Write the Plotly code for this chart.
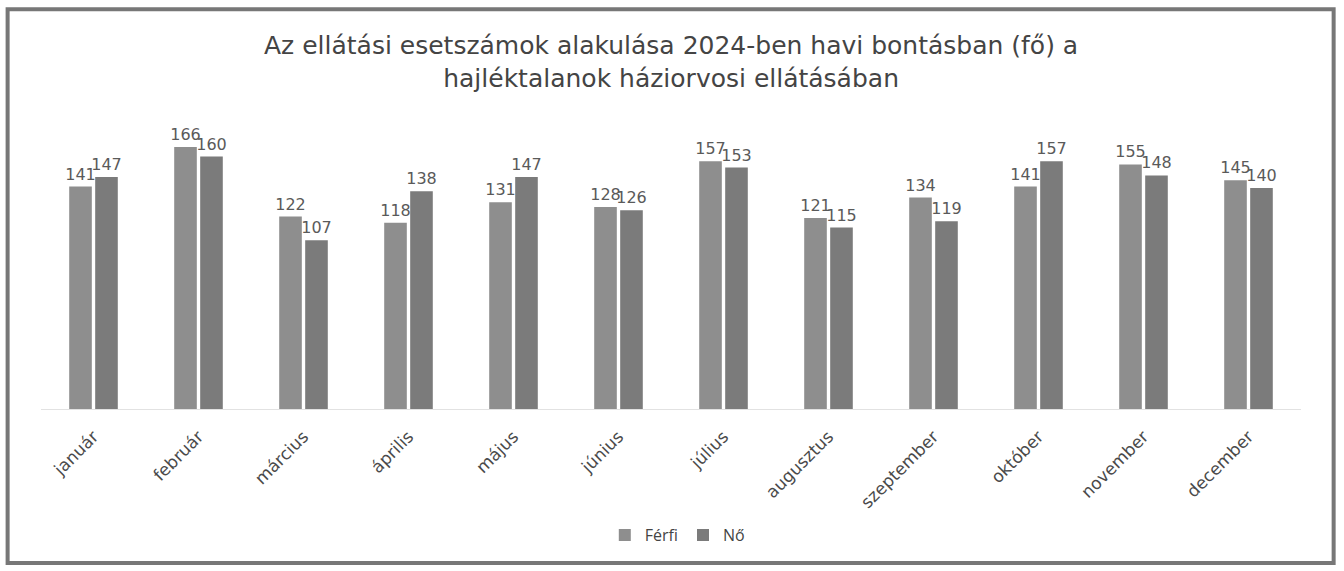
import plotly.graph_objects as go

# Havi ellátási esetszámok nemek szerint
honapok = ["január", "február", "március", "április", "május", "június",
           "július", "augusztus", "szeptember", "október", "november", "december"]
ferfi = [141, 166, 122, 118, 131, 128, 157, 121, 134, 141, 155, 145]
no = [147, 160, 107, 138, 147, 126, 153, 115, 119, 157, 148, 140]

cim = ("Az ellátási esetszámok alakulása 2024-ben havi bontásban (fő) a<br>"
       "hajléktalanok háziorvosi ellátásában")

label_font = dict(family="DejaVu Sans", size=16, color="#5a5a5a")

fig = go.Figure()
fig.add_trace(go.Bar(
    name="Férfi", x=honapok, y=ferfi,
    marker=dict(color="#8e8e8e", line=dict(width=0)),
    text=ferfi, textposition="outside", textfont=label_font,
    constraintext="none", cliponaxis=False,
))
fig.add_trace(go.Bar(
    name="Nő", x=honapok, y=no,
    marker=dict(color="#7b7b7b", line=dict(width=0)),
    text=no, textposition="outside", textfont=label_font,
    constraintext="none", cliponaxis=False,
))

fig.update_layout(
    width=1344, height=571,
    margin=dict(l=41, r=43, t=125, b=162),
    paper_bgcolor="white", plot_bgcolor="white",
    barmode="group", bargap=0.505, bargroupgap=0.13,
    xaxis=dict(
        tickangle=-45, tickfont=dict(family="DejaVu Sans", size=17, color="#4a4a4a"),
        ticklabelstandoff=10,
        showgrid=False, showline=True, linecolor="#e2e2e2", ticks="",
    ),
    yaxis=dict(range=[0, 180], visible=False),
    legend=dict(
        orientation="h", x=0.505, xanchor="center", y=-0.444, yanchor="middle",
        font=dict(family="Open Sans", size=16, color="#444444"),
        itemwidth=30, traceorder="normal",
    ),
    annotations=[dict(
        text=cim, xref="paper", yref="paper", x=0.5, y=1.222,
        xanchor="center", yanchor="middle", showarrow=False,
        font=dict(family="DejaVu Sans", size=25, color="#444444"),
        align="center",
    )],
    shapes=[dict(
        type="rect", xref="paper", yref="paper",
        x0=-0.0265, x1=1.0259, y0=-0.542, y1=1.408,
        line=dict(color="#777777", width=4),
    )],
)

fig.write_html("out.html")
